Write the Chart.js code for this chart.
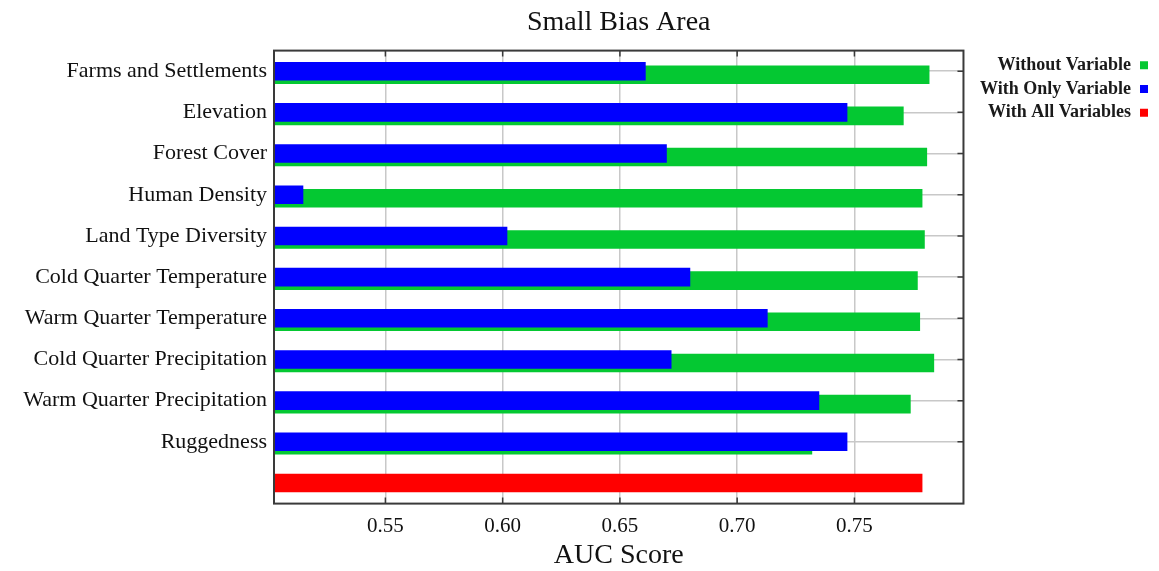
<!DOCTYPE html>
<html>
<head>
<meta charset="utf-8">
<script src="https://cdn.jsdelivr.net/npm/chart.js@4.4.1/dist/chart.umd.min.js"></script>
<style>
  html, body { margin: 0; padding: 0; background: #fff; }
  #wrap { width: 1159px; height: 571px; position: relative; }
</style>
</head>
<body>
<div id="wrap"><canvas id="chart"></canvas></div>
<script>
// categories, top to bottom (last row holds only the "all variables" bar)
const categories = [
    "Farms and Settlements",
    "Elevation",
    "Forest Cover",
    "Human Density",
    "Land Type Diversity",
    "Cold Quarter Temperature",
    "Warm Quarter Temperature",
    "Cold Quarter Precipitation",
    "Warm Quarter Precipitation",
    "Ruggedness",
    ""
];
const withoutVariable  = [0.782, 0.771, 0.781, 0.779, 0.780, 0.777, 0.778, 0.784, 0.774, 0.732, null];
const withOnlyVariable = [0.661, 0.747, 0.670, 0.515, 0.602, 0.680, 0.713, 0.672, 0.735, 0.747, null];
const withAllVariables = [null, null, null, null, null, null, null, null, null, null, 0.779];
const xTicks = [0.55, 0.60, 0.65, 0.70, 0.75];

const serif = "'Liberation Serif', 'Times New Roman', serif";
Chart.defaults.font.family = serif;

// plot frame with short inward tick marks, like the original
const framePlugin = {
    id: 'frame',
    afterDatasetsDraw(chart) {
        const { ctx, chartArea: a, scales: { x, y } } = chart;
        ctx.save();
        ctx.strokeStyle = '#3a3a3a';
        ctx.lineWidth = 1.5;
        ctx.beginPath();
        x.ticks.forEach((t, i) => {
            const px = x.getPixelForTick(i);
            ctx.moveTo(px, a.top); ctx.lineTo(px, a.top + 6);
            ctx.moveTo(px, a.bottom); ctx.lineTo(px, a.bottom - 6);
        });
        y.ticks.forEach((t, i) => {
            if (i === y.ticks.length - 1) return;
            const py = y.getPixelForTick(i);
            ctx.moveTo(a.right - 6, py); ctx.lineTo(a.right, py);
        });
        ctx.stroke();
        ctx.lineWidth = 2;
        ctx.strokeRect(a.left, a.top, a.width, a.height);
        ctx.restore();
    }
};

new Chart(document.getElementById('chart'), {
    type: 'bar',
    data: {
        labels: categories,
        datasets: [
            {
                label: "With All Variables",
                data: withAllVariables,
                backgroundColor: "#ff0000",
                skipNull: true,        // alone in its row -> centred
                barPercentage: 1.78
            },
            {
                label: "With Only Variable",
                data: withOnlyVariable,
                backgroundColor: "#0000ff"
            },
            {
                label: "Without Variable",
                data: withoutVariable,
                backgroundColor: "#04c832"
            }
        ]
    },
    options: {
        indexAxis: 'y',
        responsive: true,
        maintainAspectRatio: false,
        animation: false,
        // bars overlap: tiny slots, wide bars
        categoryPercentage: 0.255,
        barPercentage: 5.3,
        layout: { padding: { top: 0, right: 5.3, bottom: 0, left: 0 } },
        plugins: {
            title: {
                display: true,
                text: "Small Bias Area",
                fullSize: false,
                color: '#111',
                font: { size: 28, weight: 'normal' },
                padding: { top: 6, bottom: 11 }
            },
            legend: {
                position: 'right',
                align: 'start',
                fullSize: false,
                rtl: true,
                textDirection: 'ltr',
                labels: {
                    boxWidth: 8,
                    boxHeight: 8,
                    padding: 5.7,
                    color: '#1a1a1a',
                    font: { size: 18, weight: 'bold' },
                    sort: (a, b) => b.datasetIndex - a.datasetIndex
                }
            },
            tooltip: { enabled: false }
        },
        scales: {
            x: {
                type: 'linear',
                min: 0.5025,
                max: 0.7965,
                afterBuildTicks: (scale) => {
                    scale.ticks = xTicks.map(v => ({ value: v }));
                },
                ticks: {
                    color: '#111',
                    font: { size: 21 },
                    padding: 10,
                    callback: (v) => Number(v).toFixed(2)
                },
                grid: { color: '#c8c8c8', lineWidth: 1.5, drawTicks: false },
                border: { display: false },
                title: {
                    display: true,
                    text: "AUC Score",
                    color: '#111',
                    font: { size: 28 },
                    padding: { top: -10.4, bottom: -1 }
                }
            },
            y: {
                type: 'category',
                offset: true,
                grid: {
                    offset: false,
                    drawTicks: false,
                    lineWidth: 1.5,
                    color: (c) => c.index === categories.length - 1 ? 'rgba(0,0,0,0)' : '#c8c8c8'
                },
                border: { display: false },
                ticks: { color: '#111', font: { size: 22 }, padding: 7 },
                afterFit: (scale) => { scale.width = 274; }
            },
            y2: {
                type: 'category',
                position: 'right',
                display: true,
                grid: { display: false, drawTicks: false },
                border: { display: false },
                ticks: { display: false },
                afterFit: (scale) => { scale.width = 6.5; }
            }
        }
    },
    plugins: [framePlugin]
});
</script>
</body>
</html>
